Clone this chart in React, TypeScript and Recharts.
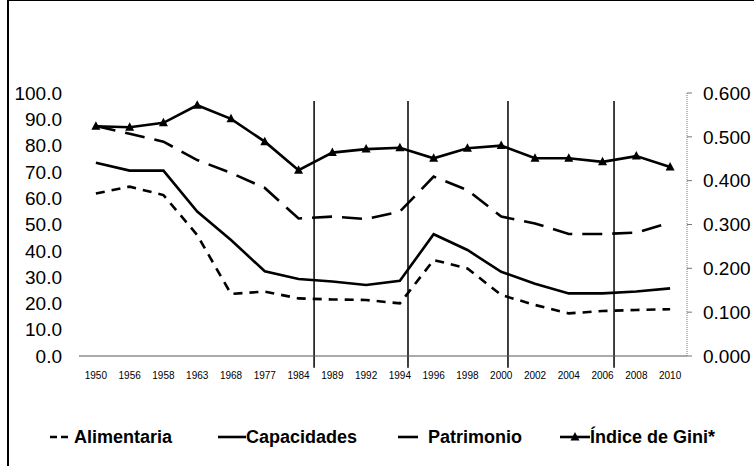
import { LineChart, Line, XAxis, YAxis, ReferenceLine } from "recharts";

const years = [
  "1950", "1956", "1958", "1963", "1968", "1977", "1984", "1989", "1992",
  "1994", "1996", "1998", "2000", "2002", "2004", "2006", "2008", "2010",
];
const alimentaria = [
  61.8, 64.4, 61.2, 46.0, 23.6, 24.5, 21.9, 21.5, 21.3, 20.0, 36.5, 33.3,
  23.2, 19.4, 16.2, 17.1, 17.5, 17.8,
];
const capacidades = [
  73.5, 70.5, 70.5, 54.9, 44.1, 32.2, 29.3, 28.3, 27.0, 28.6, 46.3, 40.3,
  32.0, 27.5, 23.8, 23.8, 24.5, 25.7,
];
const patrimonio = [
  87.5, 84.5, 81.5, 74.5, 69.6, 63.9, 52.3, 53.0, 52.1, 54.9, 68.2, 63.1,
  53.0, 50.4, 46.4, 46.4, 46.9, 50.7,
];
const gini = [
  0.524, 0.522, 0.532, 0.572, 0.541, 0.489, 0.424, 0.464, 0.472, 0.475,
  0.451, 0.474, 0.48, 0.451, 0.451, 0.443, 0.456, 0.431,
];
const leftTicks = [0, 10, 20, 30, 40, 50, 60, 70, 80, 90, 100];
const rightTicks = [0, 0.1, 0.2, 0.3, 0.4, 0.5, 0.6];
// vertical period markers, in band units (0 = left edge of the 1950 band)
const markers = [6.96, 9.74, 12.7, 15.84];

// each year sits in the middle of its band
const rows = years.map((year, i) => ({
  pos: i + 0.5,
  year,
  alimentaria: alimentaria[i],
  capacidades: capacidades[i],
  patrimonio: patrimonio[i],
  gini: gini[i],
}));
const yearTicks = rows.map((r) => r.pos);

const FONT = '"Liberation Sans", Arial, sans-serif';

function triangle(p: any) {
  const { cx, cy, index } = p;
  if (cx == null || cy == null) return <g key={index} />;
  return (
    <path
      key={index}
      d={`M${cx},${cy - 5} L${cx + 4.5},${cy + 3.5} L${cx - 4.5},${cy + 3.5} Z`}
      fill="#000"
    />
  );
}

function LegendItem({ icon, label, left }: { icon: React.ReactNode; label: string; left: number }) {
  return (
    <div
      style={{
        position: "absolute",
        left,
        top: 0,
        display: "flex",
        alignItems: "center",
        whiteSpace: "nowrap",
      }}
    >
      {icon}
      <span>{label}</span>
    </div>
  );
}

export default function App() {
  return (
    <div
      style={{
        position: "absolute",
        left: 0,
        top: 0,
        width: 754,
        height: 466,
        background: "#fff",
        fontFamily: FONT,
      }}
    >
      <div
        style={{
          position: "absolute",
          left: 7,
          top: 0,
          width: 747,
          height: 466,
          borderLeft: "2px solid #000",
          borderTop: "1px solid #000",
          boxSizing: "border-box",
        }}
      />
      <LineChart
        width={754}
        height={466}
        data={rows}
        margin={{ top: 93, right: 0, bottom: 80, left: 0 }}
        style={{ position: "absolute", left: 0, top: 0 }}
      >
        <XAxis
          dataKey="pos"
          type="number"
          domain={[0, 18]}
          allowDataOverflow
          ticks={yearTicks}
          interval={0}
          tickFormatter={(v: number) => years[Math.round(v - 0.5)]}
          height={30}
          tickLine={false}
          axisLine={{ stroke: "#555" }}
          tickMargin={10}
          tick={{ fontSize: 10, fill: "#000", fontFamily: FONT }}
        />
        <YAxis
          yAxisId="left"
          domain={[0, 100]}
          ticks={leftTicks}
          interval={0}
          tickFormatter={(v: number) => v.toFixed(1)}
          width={79}
          axisLine={false}
          tickLine={false}
          tickSize={0}
          tickMargin={17}
          tick={{ fontSize: 19, fill: "#000", fontFamily: FONT }}
        />
        <YAxis
          yAxisId="right"
          orientation="right"
          domain={[0, 0.6]}
          ticks={rightTicks}
          interval={0}
          tickFormatter={(v: number) => v.toFixed(3)}
          width={67}
          axisLine={{ stroke: "#777", strokeDasharray: "1 1" }}
          tickLine={{ stroke: "#777" }}
          tickSize={5}
          tickMargin={11}
          tick={{ fontSize: 19, fill: "#000", fontFamily: FONT }}
        />
        {markers.map((m) => (
          <ReferenceLine
            key={m}
            yAxisId="left"
            segment={[
              { x: m, y: -4.5 },
              { x: m, y: 97 },
            ]}
            ifOverflow="visible"
            stroke="#000"
            strokeWidth={1.5}
          />
        ))}
        <Line
          yAxisId="left"
          dataKey="alimentaria"
          stroke="#000"
          strokeWidth={2.6}
          strokeDasharray="9 7"
          dot={false}
          isAnimationActive={false}
        />
        <Line
          yAxisId="left"
          dataKey="capacidades"
          stroke="#000"
          strokeWidth={2.6}
          dot={false}
          isAnimationActive={false}
        />
        <Line
          yAxisId="left"
          dataKey="patrimonio"
          stroke="#000"
          strokeWidth={2.6}
          strokeDasharray="20 10"
          dot={false}
          isAnimationActive={false}
        />
        <Line
          yAxisId="right"
          dataKey="gini"
          stroke="#000"
          strokeWidth={2.6}
          dot={triangle}
          isAnimationActive={false}
        />
      </LineChart>
      <div
        style={{
          position: "absolute",
          left: 0,
          top: 426,
          width: 754,
          height: 22,
          fontSize: 18,
          fontWeight: 700,
          color: "#000",
          lineHeight: "22px",
        }}
      >
        <LegendItem
          left={48}
          label="Alimentaria"
          icon={
            <svg width={26} height={22}>
              <line x1={2} y1={11} x2={20} y2={11} stroke="#000" strokeWidth={2.6} strokeDasharray="7 4" />
            </svg>
          }
        />
        <LegendItem
          left={218}
          label="Capacidades"
          icon={
            <svg width={28} height={22}>
              <line x1={0} y1={11} x2={28} y2={11} stroke="#000" strokeWidth={2.6} />
            </svg>
          }
        />
        <LegendItem
          left={396}
          label="Patrimonio"
          icon={
            <svg width={32} height={22}>
              <line x1={2} y1={11} x2={22} y2={11} stroke="#000" strokeWidth={2.6} />
            </svg>
          }
        />
        <LegendItem
          left={560}
          label="Índice de Gini*"
          icon={
            <svg width={30} height={22}>
              <line x1={0} y1={11} x2={30} y2={11} stroke="#000" strokeWidth={2.6} />
              <path d="M15,6 L19.5,14.5 L10.5,14.5 Z" fill="#000" />
            </svg>
          }
        />
      </div>
    </div>
  );
}
